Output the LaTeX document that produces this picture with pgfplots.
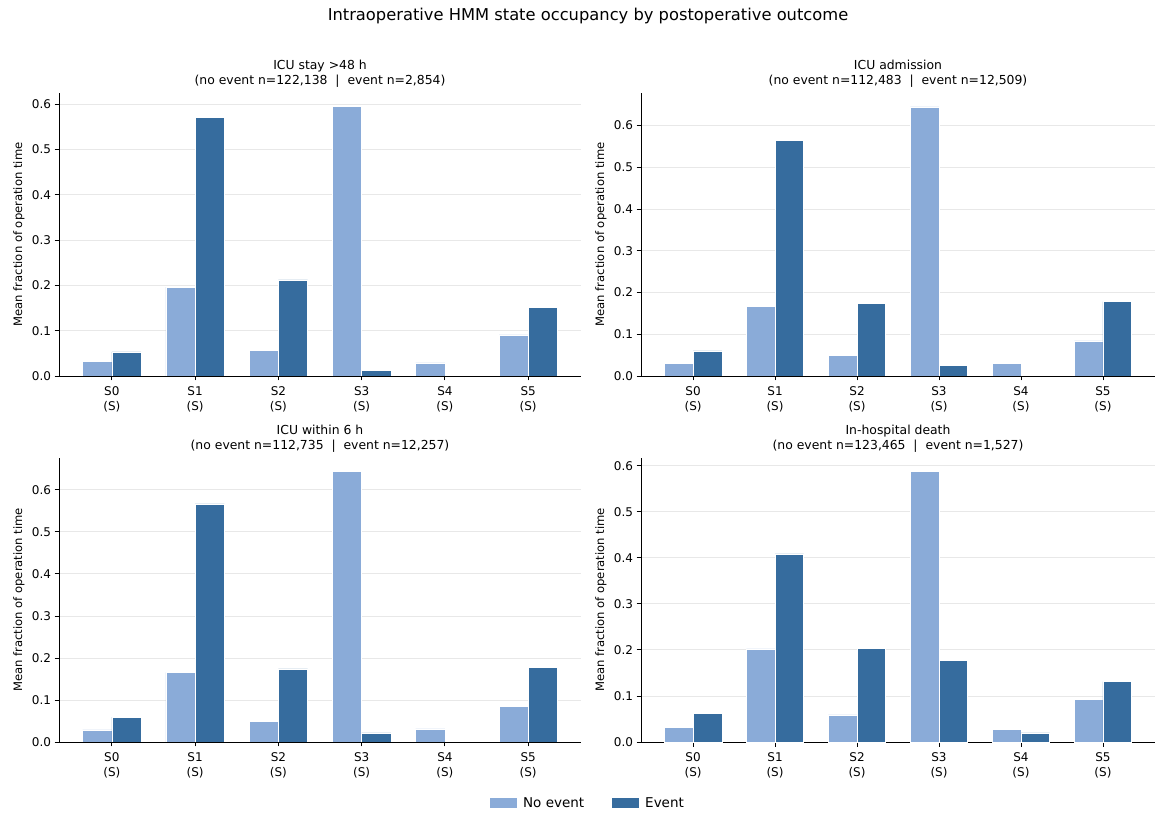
\documentclass[border=0pt]{standalone}
\usepackage{fontspec}
\setmainfont{DejaVu Sans}
\usepackage{pgfplots}
\pgfplotsset{compat=1.18}
\definecolor{lightbar}{RGB}{138,171,216}
\definecolor{darkbar}{RGB}{54,108,158}
\definecolor{gridc}{RGB}{232,232,232}

\pgfplotsset{
  occ/.style={
    scale only axis,
    xmin=-0.635, xmax=5.635,
    ymin=0,
    axis x line*=bottom, axis y line*=left,
    xtick={0,1,2,3,4,5},
    xticklabels={S0\\(S),S1\\(S),S2\\(S),S3\\(S),S4\\(S),S5\\(S)},
    xticklabel style={align=center, font=\fontsize{12}{14.2}\selectfont, yshift=-3pt},
    ytick={0,0.1,0.2,0.3,0.4,0.5,0.6},
    yticklabel style={/pgf/number format/fixed, /pgf/number format/fixed zerofill, /pgf/number format/precision=1, font=\fontsize{12}{14}\selectfont},
    /pgf/number format/assume math mode=true,
    ymajorgrids, xmajorgrids=false,
    grid style={color=gridc, line width=0.9pt},
    tick align=outside, major tick length=4.5pt,
    tick style={black, line width=0.9pt},
    axis line style={line width=0.9pt, black},
    ylabel={Mean fraction of operation time},
    ylabel style={at={([xshift=-40pt]axis description cs:0,0.5)}, anchor=center, font=\fontsize{11.6}{14}\selectfont},
    title style={align=center, font=\fontsize{12.4}{15}\selectfont, at={(0.5,1)}, anchor=south, yshift=-3pt, inner sep=2pt},
    legend image code/.code={\fill[##1, draw=none] (0pt,-5pt) rectangle (27pt,5pt);},
  },
  nob/.style={ybar, bar width=0.35, bar shift=-0.175, fill=lightbar, draw=white, line width=0.5pt},
  evb/.style={ybar, bar width=0.35, bar shift=0.175, fill=darkbar, draw=white, line width=0.5pt},
}

\begin{document}
\begin{tikzpicture}
\path[use as bounding box] (0pt,0pt) rectangle (1155pt,813pt);

\node[font=\fontsize{16.3}{19}\selectfont] at (588pt,797pt) {Intraoperative HMM state occupancy by postoperative outcome};

% Top-left
\begin{axis}[occ, at={(59pt,437pt)}, anchor=south west, width=522pt, height=283pt, ymax=0.625,
  title={ICU stay >48 h\\(no event n=122,138\ \ |\ \ event n=2,854)}]
\addplot[nob] coordinates {(0,0.032) (1,0.196) (2,0.057) (3,0.596) (4,0.029) (5,0.091)};
\addplot[evb] coordinates {(0,0.053) (1,0.571) (2,0.212) (3,0.013) (4,0.002) (5,0.152)};
\end{axis}

% Top-right
\begin{axis}[occ, at={(641pt,437pt)}, anchor=south west, width=514pt, height=283pt, ymax=0.678,
  title={ICU admission\\(no event n=112,483\ \ |\ \ event n=12,509)}]
\addplot[nob] coordinates {(0,0.0295) (1,0.166) (2,0.049) (3,0.645) (4,0.030) (5,0.084)};
\addplot[evb] coordinates {(0,0.060) (1,0.565) (2,0.174) (3,0.025) (4,0.002) (5,0.178)};
\end{axis}

% Bottom-left
\begin{axis}[occ, at={(59pt,71pt)}, anchor=south west, width=522pt, height=284pt, ymax=0.676,
  title={ICU within 6 h\\(no event n=112,735\ \ |\ \ event n=12,257)}]
\addplot[nob] coordinates {(0,0.029) (1,0.166) (2,0.0485) (3,0.644) (4,0.031) (5,0.084)};
\addplot[evb] coordinates {(0,0.059) (1,0.567) (2,0.174) (3,0.022) (4,0.002) (5,0.178)};
\end{axis}

% Bottom-right
\begin{axis}[occ, at={(641pt,71pt)}, anchor=south west, width=514pt, height=284pt, ymax=0.617,
  title={In-hospital death\\(no event n=123,465\ \ |\ \ event n=1,527)},
  legend style={at={(-0.1031,-0.2148)}, anchor=center, draw=none, fill=none,
    legend columns=2, font=\fontsize{13.5}{16}\selectfont,
    /tikz/every odd column/.append style={column sep=4pt},
    /tikz/every even column/.append style={column sep=26pt},
    legend cell align=left}]
\addplot[nob] coordinates {(0,0.032) (1,0.2025) (2,0.059) (3,0.588) (4,0.0276) (5,0.093)};
\addplot[evb] coordinates {(0,0.063) (1,0.4085) (2,0.203) (3,0.177) (4,0.0196) (5,0.131)};
\legend{No event, Event}
\end{axis}
\end{tikzpicture}
\end{document}
